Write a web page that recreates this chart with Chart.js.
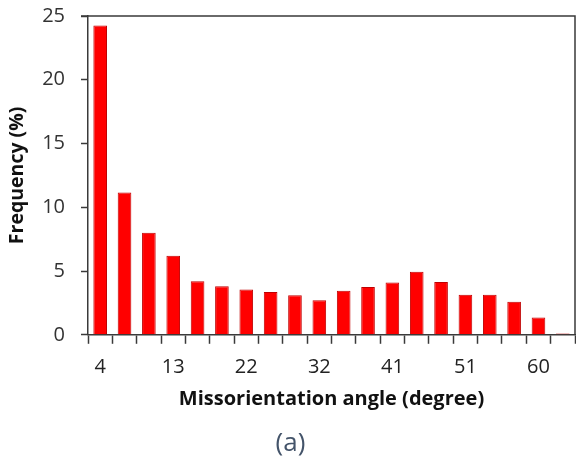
<!DOCTYPE html>
<html lang="en">
<head>
  <meta charset="UTF-8">
  <title>Missorientation angle distribution</title>
  <script src="https://cdn.jsdelivr.net/npm/chart.js"></script>
  <style>
    html, body { margin: 0; padding: 0; background: #ffffff; }
    #wrap { width: 576px; height: 459px; }
  </style>
</head>
<body>
  <div id="wrap"><canvas id="angleChart"></canvas></div>
  <script>
    // one bar per bin, only every third bin gets a label on the axis
    const angles = ['4', '7', '10', '13', '16', '19', '22', '25', '29', '32',
                    '35', '38', '41', '44', '48', '51', '54', '57', '60', '63'];
    const frequency = [24.25, 11.15, 8.0, 6.2, 4.2, 3.8, 3.55, 3.35, 3.1, 2.7,
                       3.45, 3.75, 4.1, 4.95, 4.15, 3.15, 3.15, 2.6, 1.35, 0.1];
    const shownTicks = ['4', '13', '22', '32', '41', '51', '60'];
    const yTicks = [0, 5, 10, 15, 20, 25];

    const axisColor = '#3a3a3a';
    const font = "'Open Sans', 'DejaVu Sans', sans-serif";

    // box around the plot area (top and right edges)
    const frame = {
      id: 'frame',
      afterDraw(chart) {
        const { ctx, chartArea } = chart;
        ctx.save();
        ctx.strokeStyle = axisColor;
        ctx.lineWidth = 1.5;
        ctx.beginPath();
        ctx.moveTo(chartArea.left - 7, chartArea.top);
        ctx.lineTo(chartArea.right, chartArea.top);
        ctx.lineTo(chartArea.right, chartArea.bottom);
        ctx.stroke();
        ctx.restore();
      }
    };

    const ctx = document.getElementById('angleChart').getContext('2d');
    new Chart(ctx, {
      type: 'bar',
      data: {
        labels: angles,
        datasets: [{
          label: 'Frequency (%)',
          data: frequency,
          backgroundColor: '#ff0000',
          borderColor: '#c00000',
          borderWidth: 1,
          barPercentage: 0.56,
          categoryPercentage: 1.0
        }]
      },
      options: {
        responsive: true,
        maintainAspectRatio: false,
        animation: false,
        layout: { padding: { left: 6, right: 1, top: 16, bottom: 0 } },
        plugins: {
          legend: { display: false },
          tooltip: { enabled: false },
          title: {
            display: true,
            text: '(a)',
            position: 'bottom',
            color: '#44546a',
            font: { family: font, size: 26, weight: 'normal' },
            padding: { top: 17, bottom: 0 }
          }
        },
        scales: {
          x: {
            afterFit(scale) { scale.height = 76; scale.paddingTop = 0; },
            border: { color: axisColor, width: 1.5 },
            grid: {
              offset: true,
              drawOnChartArea: false,
              drawTicks: true,
              tickLength: 9,
              tickWidth: 1.5,
              color: axisColor
            },
            ticks: {
              autoSkip: false,
              maxRotation: 0,
              padding: 11,
              color: '#222222',
              font: { family: font, size: 20 },
              callback(value) {
                const lbl = angles[value];
                return shownTicks.includes(lbl) ? lbl : '';
              }
            },
            title: {
              display: true,
              text: 'Missorientation angle (degree)',
              color: '#111111',
              padding: 0,
              font: { family: font, size: 20, weight: 'bold' }
            }
          },
          y: {
            min: 0,
            max: 25,
            // fixed width so the axis sits where the original one does
            afterFit(scale) { scale.width = 82; scale.paddingTop = 0; },
            afterBuildTicks(scale) { scale.ticks = yTicks.map(v => ({ value: v })); },
            border: { color: axisColor, width: 1.5 },
            grid: {
              drawOnChartArea: false,
              drawTicks: true,
              tickLength: 7,
              tickWidth: 1.5,
              color: axisColor
            },
            ticks: {
              padding: 16,
              color: '#333333',
              font: { family: font, size: 20 }
            },
            title: {
              display: true,
              text: 'Frequency (%)',
              color: '#111111',
              padding: 0,
              font: { family: font, size: 19.5, weight: 'bold' }
            }
          }
        }
      },
      plugins: [frame]
    });
  </script>
</body>
</html>
